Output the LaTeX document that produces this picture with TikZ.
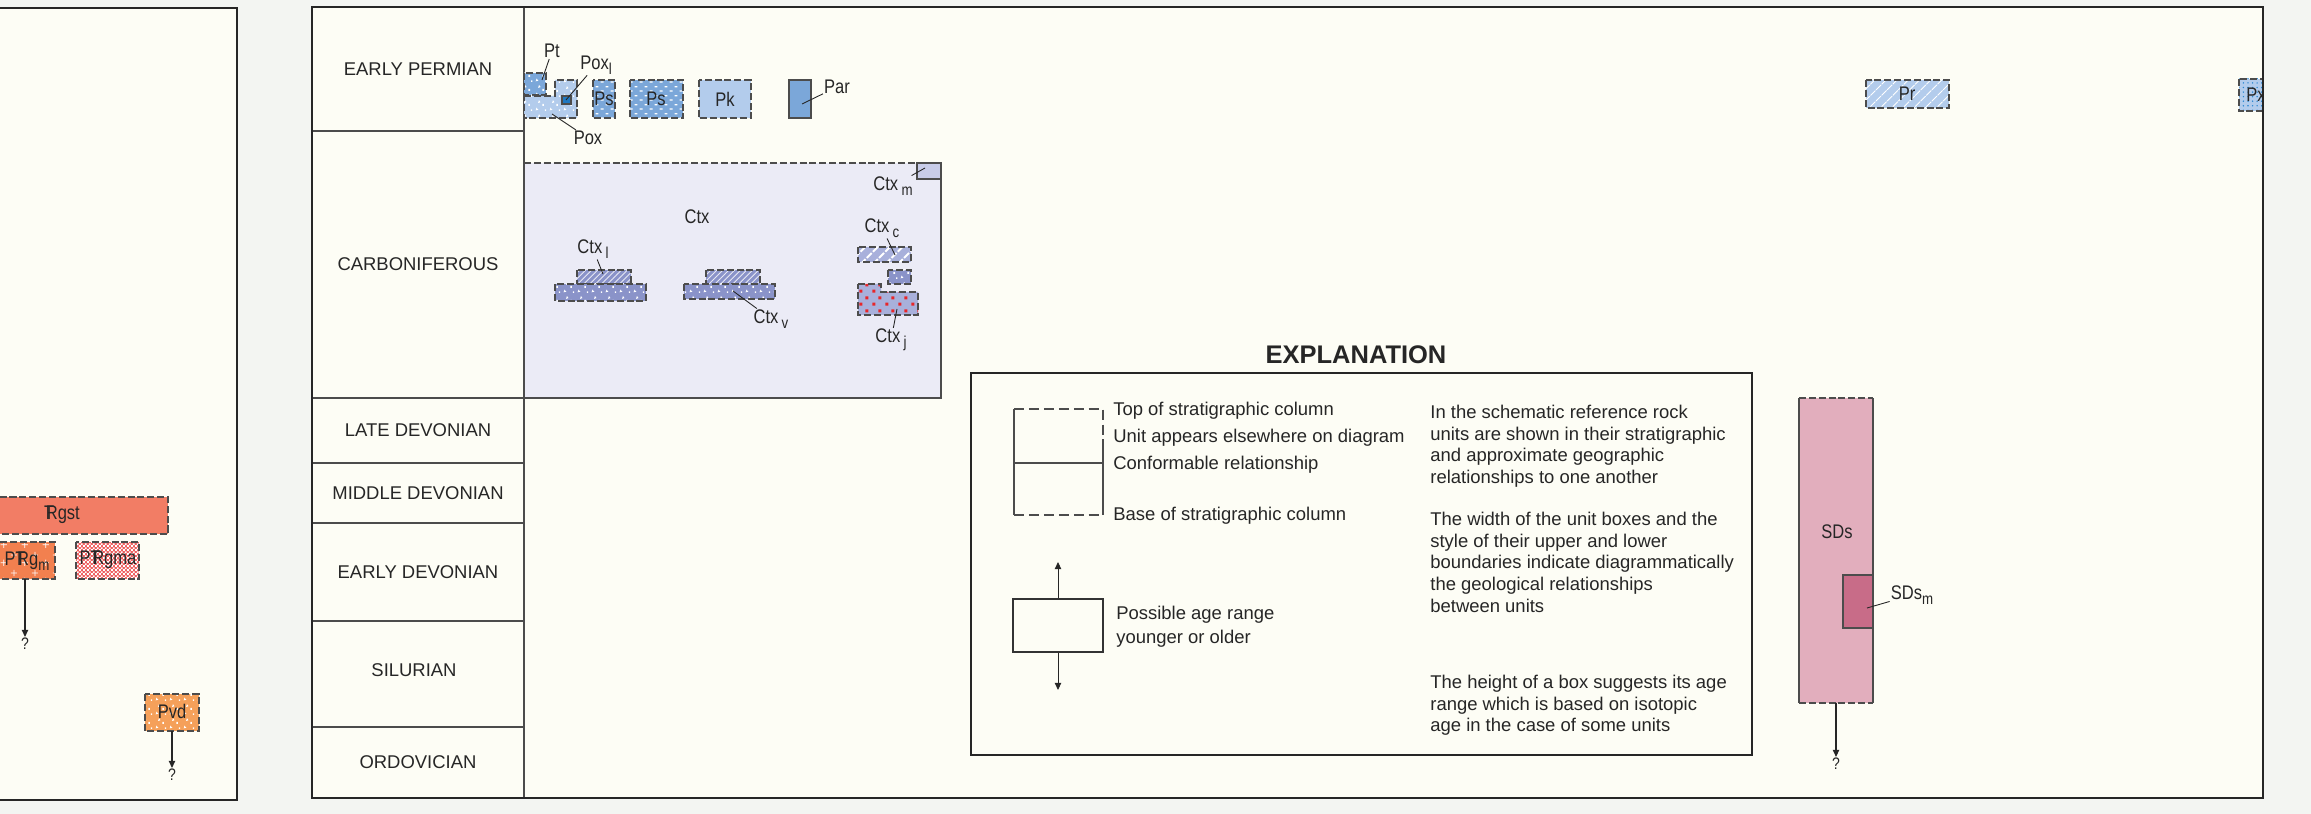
\documentclass[tikz,border=0pt]{standalone}
\usepackage{fontspec}
\setmainfont{Liberation Sans}
\newfontfamily\condfont[FakeStretch=0.84]{Liberation Sans}
\usetikzlibrary{patterns, patterns.meta, arrows.meta}

\definecolor{outerbg}{HTML}{F3F5F2}
\definecolor{cream}{HTML}{FDFDF5}
\definecolor{ctxbg}{HTML}{EBEBF6}
\definecolor{bluemid}{HTML}{7BA7D9}
\definecolor{bluelight}{HTML}{B3CCEC}
\definecolor{bluedark}{HTML}{1F78C1}
\definecolor{ctxvol}{HTML}{8A93C9}
\definecolor{ctxc}{HTML}{A8B0DB}
\definecolor{ctxm}{HTML}{C8CCE8}
\definecolor{sds}{HTML}{E2AEBD}
\definecolor{sdsm}{HTML}{C86C88}
\definecolor{rgst}{HTML}{F27D65}
\definecolor{ptrgm}{HTML}{F2804F}
\definecolor{ptrgma}{HTML}{EE5E5E}
\definecolor{pvd}{HTML}{F5A05A}
\definecolor{dotred}{HTML}{E8262A}
\definecolor{dotblue}{HTML}{2A86D0}

% fill patterns of the rock units
\tikzdeclarepattern{
  name=specks, type=uncolored,
  bottom left={(0pt,0pt)}, top right={(8pt,8pt)}, tile size={(8pt,8pt)},
  code={
    \fill (1pt,1pt) -- (2.6pt,1.3pt) -- (1.5pt,2.6pt) -- cycle;
    \fill (5pt,3.6pt) rectangle (6pt,4.8pt);
    \fill (2.4pt,5.4pt) -- (3.9pt,5.8pt) -- (3pt,7.1pt) -- cycle;
    \fill (6.6pt,0.6pt) rectangle (7.3pt,1.6pt);
  }
}
\tikzdeclarepattern{
  name=bars, type=uncolored,
  bottom left={(0pt,0pt)}, top right={(5.6pt,5pt)}, tile size={(5.6pt,5pt)},
  code={
    \fill (0.4pt,0.8pt) rectangle (2pt,1.5pt);
    \fill (3.2pt,3.3pt) rectangle (4.8pt,4pt);
  }
}
\tikzdeclarepattern{
  name=pluses, type=uncolored,
  bottom left={(0pt,0pt)}, top right={(12pt,10pt)}, tile size={(12pt,10pt)},
  code={
    \fill (1pt,2.8pt) rectangle (4.6pt,3.3pt);
    \fill (2.55pt,1.2pt) rectangle (3.05pt,4.9pt);
    \fill (7pt,7.3pt) rectangle (10.6pt,7.8pt);
    \fill (8.55pt,5.7pt) rectangle (9.05pt,9.4pt);
  }
}
\tikzdeclarepattern{
  name=squares, type=uncolored,
  bottom left={(0pt,0pt)}, top right={(7.4pt,7.4pt)}, tile size={(7.4pt,7.4pt)},
  code={
    \fill (0.8pt,0.8pt) rectangle (2.6pt,2.6pt);
    \fill (4.5pt,4.5pt) rectangle (6.3pt,6.3pt);
  }
}
\tikzdeclarepattern{
  name=checks, type=uncolored,
  bottom left={(0pt,0pt)}, top right={(2.4pt,2.4pt)}, tile size={(2.4pt,2.4pt)},
  code={
    \fill (0pt,0pt) rectangle (1.2pt,1.2pt);
    \fill (1.2pt,1.2pt) rectangle (2.4pt,2.4pt);
  }
}

\newcommand{\trsym}{T\kern-0.43em R}
\newcommand{\lowsub}[1]{\raisebox{-0.45ex}{\fontsize{9}{10}\selectfont #1}}

\begin{document}
\begin{tikzpicture}[x=0.2mm, y=-0.2mm,
    frame/.style={draw=black!85, line width=1.6pt},
    rowline/.style={draw=black!70, line width=0.8pt},
    unit/.style={draw=black!70, line width=0.7pt, dash pattern=on 4pt off 1.6pt},
    unitsolid/.style={draw=black!70, line width=0.7pt},
    expldash/.style={draw=black!70, line width=0.6pt, dash pattern=on 5.7pt off 2.8pt},
    speckled/.style={preaction={fill=#1}, pattern=specks, pattern color=white},
    leader/.style={draw=black!85, line width=0.5pt},
    age/.style={font=\fontsize{10.5}{12}\selectfont, text=black!85},
    ulbl/.style={font=\condfont\fontsize{11.2}{13}\selectfont, inner sep=0.5pt, text=black!85},
    qmark/.style={font=\condfont\fontsize{9.5}{10}\selectfont, inner sep=0.5pt, text=black!85},
    qarrow/.style={draw=black!85, line width=0.6pt, -{Triangle[length=4pt,width=3.6pt]}},
    expl/.style={font=\fontsize{10.5}{12.3}\selectfont, inner sep=0pt, text=black!85}]
	\useasboundingbox (0,0) rectangle (2311,814);
	\fill[outerbg] (0,0) rectangle (2311,814);

	% left panel
	\fill[cream] (-10,8) rectangle (237,800);
	\draw[unit, fill=rgst] (-10,497) rectangle (168,534);
	\node[ulbl] (rgst) at (62,515) {\trsym gst};
	\draw[unit, preaction={fill=ptrgm}, pattern=pluses, pattern color=white] (-10,542) rectangle (55,579);
	\node[ulbl] (ptrgm) at (27,561) {P\trsym g\lowsub{m}};
	\draw[unit, preaction={fill=ptrgma}, pattern=checks, pattern color=white] (76,542) rectangle (139,579);
	\node[ulbl] (ptrgma) at (108,560) {P\trsym gma};
	\draw[unit, speckled=pvd] (145,694) rectangle (199,731);
	\node[ulbl] (pvd) at (172,711) {Pvd};
	\coordinate (ptrgm-base) at (25,579);
	\node[qmark] (ptrgm-q) at (25,644) {?};
	\draw[qarrow] (ptrgm-base) -- (ptrgm-q);
	\coordinate (pvd-base) at (172,731);
	\node[qmark] (pvd-q) at (172,775) {?};
	\draw[qarrow] (pvd-base) -- (pvd-q);
	\draw[frame] (-10,8) rectangle (237,800);

	% main panel and age column
	\fill[cream] (312,7) rectangle (2263,798);
	\fill[ctxbg] (524,163) rectangle (941,398);
	\draw[rowline] (524,7) -- (524,798);
	\foreach \y in {131,398,463,523,621,727}
		\draw[rowline] (312,\y) -- (524,\y);
	\node[age] (lbl-ep) at (418,69) {EARLY PERMIAN};
	\node[age] (lbl-carb) at (418,264) {CARBONIFEROUS};
	\node[age] (lbl-ld) at (418,430) {LATE DEVONIAN};
	\node[age] (lbl-md) at (418,493) {MIDDLE DEVONIAN};
	\node[age] (lbl-ed) at (418,572) {EARLY DEVONIAN};
	\node[age] (lbl-sil) at (414,670) {SILURIAN};
	\node[age] (lbl-ord) at (418,762) {ORDOVICIAN};

	% Early Permian units
	\draw[unit, speckled=bluemid] (524,73) rectangle (546,95);
	\draw[unit, speckled=bluelight] (524,96) -- (555,96) -- (555,80) -- (577,80) -- (577,118) -- (524,118) -- cycle;
	\draw[unitsolid, fill=bluedark] (562,96) rectangle (571,104);
	\draw[unit, preaction={fill=bluemid}, pattern=bars, pattern color=white] (593,80) rectangle (615,118);
	\draw[unit, preaction={fill=bluemid}, pattern=bars, pattern color=white] (630,80) rectangle (683,118);
	\draw[unit, fill=bluelight] (699,80) rectangle (751,118);
	\draw[unitsolid, fill=bluemid] (789,80) rectangle (811,118);
	\node[ulbl] (pt) at (552,51) {Pt};
	\node[ulbl] (poxl) at (596,65) {Pox\lowsub{l}};
	\node[ulbl] (pox) at (588,138) {Pox};
	\node[ulbl] (ps-a) at (604,99) {Ps};
	\node[ulbl] (ps-b) at (656,99) {Ps};
	\node[ulbl] (pk) at (725,99) {Pk};
	\node[ulbl] (par) at (837,87) {Par};
	\coordinate (pt-tip) at (542,80);
	\coordinate (poxl-tip) at (566,100);
	\coordinate (pox-tip) at (552,114);
	\coordinate (par-tip) at (802,104);
	\draw[leader] (pt) -- (pt-tip);
	\draw[leader] (poxl) -- (poxl-tip);
	\draw[leader] (pox) -- (pox-tip);
	\draw[leader] (par) -- (par-tip);
	\draw[unit, preaction={fill=bluelight}, pattern={Lines[angle=45,distance=4.5pt,line width=0.5pt]}, pattern color=white] (1866,80) rectangle (1949,108);
	\node[ulbl] (pr) at (1907,94) {Pr};
	\begin{scope}
		\clip (2230,70) rectangle (2263,120);
		\draw[unit, preaction={fill=bluelight}, pattern={Dots[radius=0.45pt,distance=2.6pt]}, pattern color=dotblue] (2239,79) rectangle (2270,111);
		\node[ulbl] (px) at (2256,95) {Px};
	\end{scope}

	% Carboniferous units
	\draw[unit, line width=0.8pt] (524,163) -- (941,163);
	\draw[rowline] (941,163) -- (941,398) -- (524,398);
	\draw[unitsolid, fill=ctxm] (917,163) rectangle (941,179);
	\node[ulbl] (ctx) at (697,217) {Ctx};
	\node[ulbl] (ctxm) at (893,186) {Ctx\,\lowsub{m}};
	\draw[unit, preaction={fill=ctxvol}, pattern={Lines[angle=45,distance=2.4pt,line width=0.5pt]}, pattern color=white!80!ctxvol] (577,270) rectangle (631,284);
	\draw[unit, speckled=ctxvol] (555,284) rectangle (646,301);
	\draw[unit, preaction={fill=ctxvol}, pattern={Lines[angle=45,distance=2.4pt,line width=0.5pt]}, pattern color=white!80!ctxvol] (706,270) rectangle (760,284);
	\draw[unit, speckled=ctxvol] (684,284) rectangle (775,299);
	\draw[unit, preaction={fill=ctxc}, pattern={Lines[angle=45,distance=5pt,line width=1.1pt]}, pattern color=white] (858,247) rectangle (911,262);
	\draw[unit, speckled=ctxvol] (888,270) rectangle (911,284);
	\draw[unit, preaction={fill=ctxc}, pattern=squares, pattern color=dotred] (858,284) -- (881,284) -- (881,292) -- (918,292) -- (918,315) -- (858,315) -- cycle;
	\node[ulbl] (ctxl) at (593,249) {Ctx\,\lowsub{l}};
	\node[ulbl] (ctxv) at (771,319) {Ctx\,\lowsub{v}};
	\node[ulbl] (ctxc) at (882,228) {Ctx\,\lowsub{c}};
	\node[ulbl] (ctxj) at (891,340) {Ctx\,\lowsub{j}};
	\coordinate (ctxm-tip) at (925,168);
	\coordinate (ctxl-tip) at (603,274);
	\coordinate (ctxv-tip) at (733,291);
	\coordinate (ctxc-tip) at (895,255);
	\coordinate (ctxj-tip) at (897,309);
	\draw[leader] (ctxm) -- (ctxm-tip);
	\draw[leader] (ctxl) -- (ctxl-tip);
	\draw[leader] (ctxv) -- (ctxv-tip);
	\draw[leader] (ctxc) -- (ctxc-tip);
	\draw[leader] (ctxj) -- (ctxj-tip);

	% Silurian - Devonian unit
	\fill[sds] (1799,398) rectangle (1873,703);
	\draw[unitsolid] (1799,398) -- (1799,703) (1873,398) -- (1873,703);
	\draw[unit] (1799,398) -- (1873,398) (1799,703) -- (1873,703);
	\draw[unitsolid, fill=sdsm] (1843,575) rectangle (1873,628);
	\node[ulbl] (sds) at (1837,532) {SDs};
	\node[ulbl] (sdsm) at (1912,595) {SDs\lowsub{m}};
	\coordinate (sdsm-tip) at (1867,608);
	\draw[leader] (sdsm) -- (sdsm-tip);
	\coordinate (sds-base) at (1836,703);
	\node[qmark] (sds-q) at (1836,764) {?};
	\draw[qarrow] (sds-base) -- (sds-q);

	% explanation
	\node[font=\bfseries\fontsize{14.5}{16}\selectfont, text=black!85] (expl-title) at (1356,355) {EXPLANATION};
	\draw[frame] (971,373) rectangle (1752,755);
	\coordinate (col-tl) at (1014,409);
	\coordinate (col-tr) at (1103,409);
	\coordinate (col-rs) at (1103,445);
	\coordinate (col-ml) at (1014,463);
	\coordinate (col-mr) at (1103,463);
	\coordinate (col-bl) at (1014,515);
	\coordinate (col-br) at (1103,515);
	\draw[expldash] (col-tl) -- (col-tr) -- (col-rs);
	\draw[expldash] (col-bl) -- (col-br);
	\draw[rowline, line width=0.6pt] (col-tl) -- (col-bl) (col-ml) -- (col-mr) (col-rs) -- (col-br);
	\node[expl, anchor=west] (t-top) at (1113,411) {Top of stratigraphic column};
	\node[expl, anchor=west] (t-else) at (1113,438) {Unit appears elsewhere on diagram};
	\node[expl, anchor=west] (t-conf) at (1113,465) {Conformable relationship};
	\node[expl, anchor=west] (t-base) at (1113,516) {Base of stratigraphic column};
	\node[draw=black!80, line width=0.6pt, minimum width=18mm, minimum height=10.6mm, inner sep=0pt] (agebox) at (1058,625.5) {};
	\coordinate (age-up) at (1058,562);
	\coordinate (age-dn) at (1058,690);
	\draw[qarrow, line width=0.5pt] (agebox.north) -- (age-up);
	\draw[qarrow, line width=0.5pt] (agebox.south) -- (age-dn);
	\node[expl, anchor=west] (t-range) at (1116,615) {Possible age range};
	\node[expl, anchor=west] (t-yo) at (1116,639) {younger or older};
	\node[expl, anchor=north west, align=left] (p-one) at (1430,405) {In the schematic reference rock\\units are shown in their stratigraphic\\and approximate geographic\\relationships to one another};
	\node[expl, anchor=north west, align=left] (p-two) at (1430,512) {The width of the unit boxes and the\\style of their upper and lower\\boundaries indicate diagrammatically\\the geological relationships\\between units};
	\node[expl, anchor=north west, align=left] (p-three) at (1430,675) {The height of a box suggests its age\\range which is based on isotopic\\age in the case of some units};

	\draw[frame] (312,7) rectangle (2263,798);
\end{tikzpicture}
\end{document}
